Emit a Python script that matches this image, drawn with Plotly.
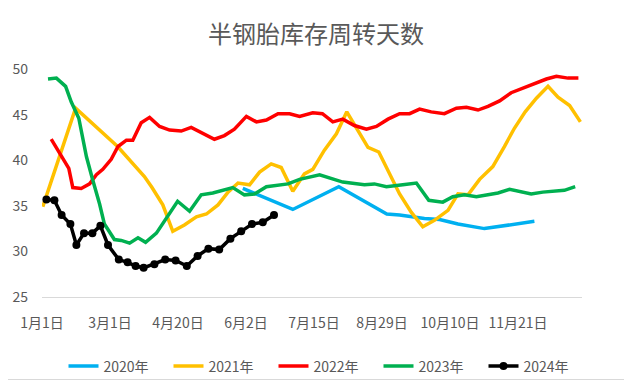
import plotly.graph_objects as go

# Category axis: positions along a shared date axis (row index), labels every 17 rows
tick_pos = [0, 17, 34, 51, 68, 85, 102, 119]
tick_labels = ["1月1日", "3月1日", "4月20日", "6月2日", "7月15日", "8月29日", "10月10日", "11月21日"]

x2020 = [50.2, 62.7, 74.2, 86.2, 89.4, 92.7, 95.6, 99.4, 104.0, 110.6, 116.9, 123.1]
y2020 = [36.9, 34.6, 37.1, 34.1, 34.0, 33.8, 33.6, 33.5, 33.0, 32.5, 32.9, 33.3]

x2021 = [0.2, 8.4, 18.9, 25.6, 27.5, 30.2, 32.7, 35.6, 38.6, 41.1, 44.0, 46.5, 49.0, 51.9,
         54.4, 57.3, 59.8, 62.7, 65.6, 67.7, 70.6, 73.6, 76.2, 79.0, 81.5, 84.2, 86.5, 89.4,
         92.3, 95.2, 98.1, 101.5, 104.0, 106.5, 109.4, 112.7, 115.6, 118.1, 120.8, 123.6,
         126.5, 129.0, 131.9, 134.6]
y2021 = [34.9, 45.7, 41.5, 38.2, 37.0, 35.1, 32.2, 32.9, 33.8, 34.1, 35.1, 36.5, 37.5, 37.3,
         38.7, 39.6, 39.2, 36.6, 38.5, 39.0, 41.1, 42.9, 45.3, 43.3, 41.4, 40.9, 38.9, 36.3,
         34.3, 32.7, 33.4, 34.5, 36.3, 36.2, 37.9, 39.3, 41.5, 43.5, 45.3, 46.8,
         48.1, 46.9, 46.0, 44.2]

x2022 = [2.3, 4.8, 6.7, 7.7, 9.8, 11.9, 13.6, 15.2, 17.3, 19.0, 21.1, 22.7, 24.8, 26.9,
         29.4, 31.9, 34.8, 37.3, 40.2, 43.1, 45.6, 48.1, 51.1, 53.6, 56.1, 59.0, 61.9, 64.4,
         67.7, 70.1, 72.7, 75.2, 78.1, 81.1, 83.6, 86.5, 89.4, 91.9, 94.4, 97.3, 100.6,
         103.6, 106.1, 109.0, 111.5, 114.4, 117.3, 120.2, 123.1, 126.1, 128.6, 131.5, 134.1]
y2022 = [42.3, 40.5, 39.1, 37.0, 36.9, 37.4, 38.4, 39.0, 40.1, 41.5, 42.2, 42.2, 44.1, 44.7,
         43.7, 43.3, 43.2, 43.6, 42.9, 42.3, 42.7, 43.4, 44.8, 44.2, 44.4, 45.1, 45.1, 44.8,
         45.2, 45.1, 44.2, 44.5, 43.8, 43.4, 43.7, 44.5, 45.1, 45.1, 45.6, 45.3, 45.1,
         45.7, 45.8, 45.5, 45.9, 46.5, 47.4, 47.9, 48.4, 48.9, 49.2, 49.0, 49.0]

x2023 = [1.5, 3.6, 5.9, 7.3, 9.2, 11.1, 12.7, 14.4, 15.6, 18.1, 19.8, 21.9, 24.0, 25.9,
         28.6, 33.9, 36.9, 39.8, 42.7, 45.6, 47.7, 50.6, 53.1, 56.1, 61.5, 64.4, 66.9, 69.4,
         75.2, 77.7, 80.6, 83.1, 86.1, 90.2, 93.6, 96.7, 100.2, 102.7, 105.6, 108.6, 111.1,
         114.0, 116.9, 119.4, 122.3, 125.2, 127.7, 130.6, 133.3]
y2023 = [48.9, 49.0, 48.1, 46.4, 44.6, 40.4, 37.8, 35.2, 33.0, 31.3, 31.2, 30.9, 31.5, 31.0,
         32.0, 35.5, 34.4, 36.2, 36.4, 36.7, 37.0, 36.2, 36.3, 37.1, 37.4, 37.9, 38.2, 38.4,
         37.6, 37.5, 37.3, 37.4, 37.1, 37.3, 37.5, 35.6, 35.4, 36.0, 36.2, 36.0, 36.2,
         36.4, 36.8, 36.6, 36.3, 36.5, 36.6, 36.7, 37.1]

x2024 = [1.1, 3.1, 4.9, 7.1, 8.6, 10.5, 12.6, 14.6, 16.5, 19.2, 21.4, 23.4, 25.4, 28.1,
         30.8, 33.4, 36.2, 38.9, 41.6, 44.3, 47.1, 49.8, 52.5, 55.2, 58.0]
y2024 = [35.7, 35.6, 34.0, 33.0, 30.7, 32.0, 32.0, 32.8, 30.7, 29.1, 28.8, 28.4, 28.2, 28.6,
         29.1, 29.0, 28.4, 29.5, 30.3, 30.2, 31.4, 32.2, 33.0, 33.2, 34.0]

FONT = "Noto Sans CJK SC"
GRAY = "#595959"

fig = go.Figure()
series = [
    ("2020年", x2020, y2020, "#00B0F0"),
    ("2021年", x2021, y2021, "#FFC000"),
    ("2022年", x2022, y2022, "#FF0000"),
    ("2023年", x2023, y2023, "#00B050"),
]
for name, xs, ys, col in series:
    fig.add_trace(go.Scatter(x=xs, y=ys, name=name, mode="lines",
                             line=dict(color=col, width=3.5)))
fig.add_trace(go.Scatter(x=x2024, y=y2024, name="2024年", mode="lines+markers",
                         line=dict(color="#000000", width=3.5),
                         marker=dict(color="#000000", size=8)))

# The page body has an 8px default margin; size the figure so it fills the window.
OFF = 8
W, H = 632 - OFF, 380 - OFF
L, R, T, B = 42 - OFF, 50, 69 - OFF, 83
pw, ph = W - L - R, H - T - B

def px2paper_x(px):
    return (px - OFF - L) / pw

def py2paper_y(py):
    return (H - B - (py - OFF)) / ph

fig.update_layout(
    width=W, height=H,
    margin=dict(l=L, r=R, t=T, b=B, pad=0, autoexpand=False),
    paper_bgcolor="white", plot_bgcolor="white",
    font=dict(family=FONT, size=14, color=GRAY),
    title=dict(text="半钢胎库存周转天数", x=(316 - OFF) / W, xref="container", xanchor="center",
               y=1 - (35 - OFF) / H, yref="container", yanchor="middle",
               font=dict(family=FONT, size=24, color=GRAY)),
    xaxis=dict(range=[0, 135], tickmode="array", tickvals=tick_pos, ticktext=tick_labels,
               showgrid=False, zeroline=False, showline=True, linecolor="#D9D9D9",
               linewidth=1, ticks="", ticklabelstandoff=13, automargin=False,
               tickfont=dict(family=FONT, size=14, color=GRAY)),
    yaxis=dict(range=[25, 50], dtick=5, tick0=25, showgrid=False, zeroline=False,
               showline=False, ticks="", ticklabelstandoff=13, automargin=False,
               tickfont=dict(family=FONT, size=14, color=GRAY)),
    legend=dict(orientation="h", x=px2paper_x(326), xanchor="center",
                y=py2paper_y(366.5), yanchor="middle", entrywidth=60,
                font=dict(family=FONT, size=14, color=GRAY),
                itemwidth=30, bgcolor="rgba(0,0,0,0)"),
    showlegend=True,
    shapes=[dict(type="rect", xref="paper", yref="paper",
                 x0=px2paper_x(0.5), x1=px2paper_x(631.5),
                 y0=py2paper_y(379.5), y1=py2paper_y(0.5),
                 line=dict(color="#D9D9D9", width=1), fillcolor="rgba(0,0,0,0)",
                 layer="below")],
)

fig.write_html("out.html")
